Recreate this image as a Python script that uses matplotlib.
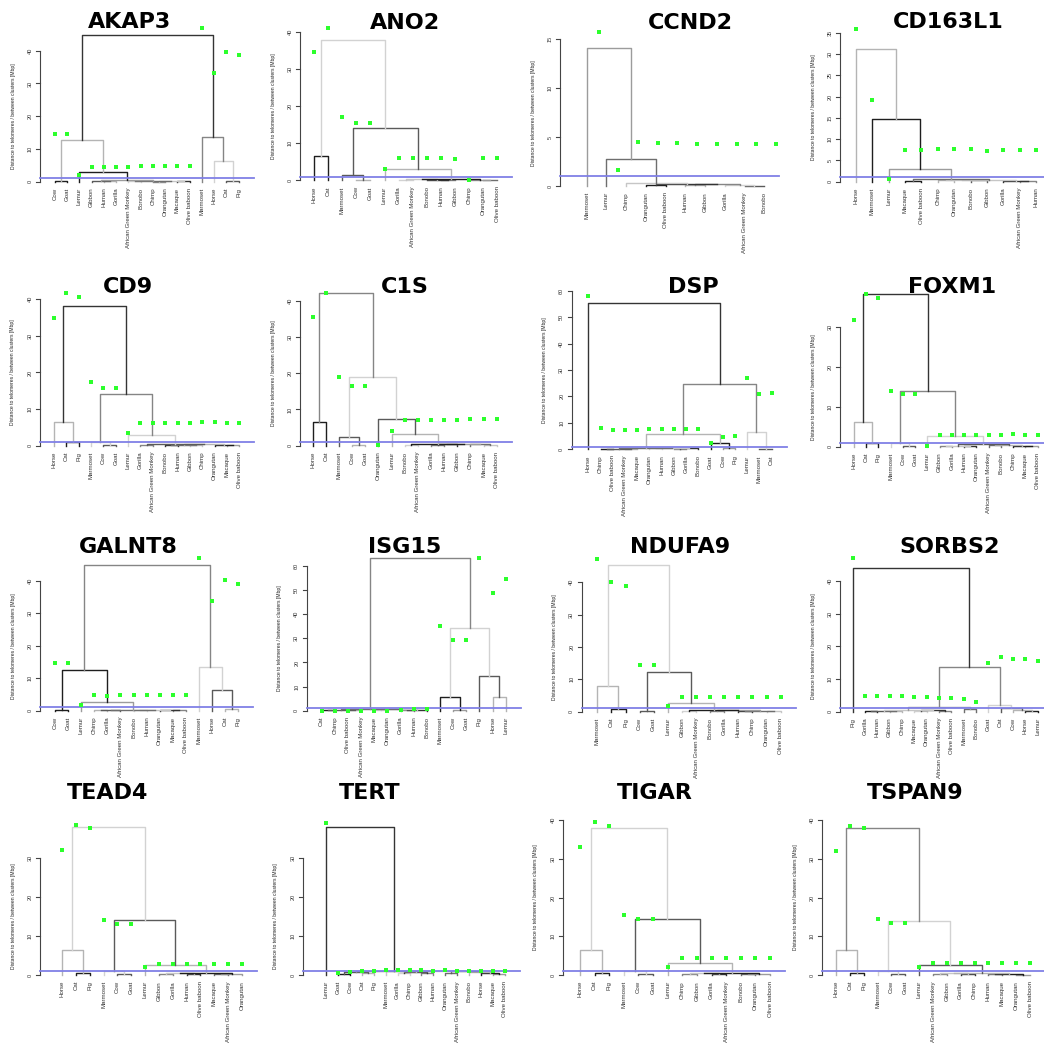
import matplotlib
matplotlib.use('Agg')
import matplotlib.pyplot as plt
import numpy as np

plt.rcParams['font.family'] = ['Liberation Sans', 'DejaVu Sans']

AGM = 'African Green Monkey'

# ---------------- data ----------------
# trees: (left, right, height); ints are leaf indices in display order
akap3_labels = ['Cow', 'Goat', 'Lemur', 'Gibbon', 'Human', 'Gorilla', AGM, 'Bonobo', 'Chimp',
                'Orangutan', 'Macaque', 'Olive baboon', 'Marmoset', 'Horse', 'Cat', 'Pig']
akap3_tree = (((0, 1, 0.15),
               (2, ((3, (4, 5, 0.1), 0.3), ((6, 7, 0.1), ((8, 9, 0.05), (10, 11, 0.2), 0.25), 0.3), 0.45), 2.9),
               12.7),
              (12, (13, (14, 15, 0.3), 6.3), 13.7), 44.8)
akap3_points = [14.6, 14.6, 2.0, 4.6, 4.6, 4.6, 4.6, 4.8, 4.9, 4.9, 4.9, 4.9, 46.8, 33.3, 39.7, 38.7]

ano2_labels = ['Horse', 'Cat', 'Marmoset', 'Cow', 'Goat', 'Lemur', 'Gorilla', AGM, 'Bonobo',
               'Human', 'Gibbon', 'Chimp', 'Orangutan', 'Olive baboon']
ano2_tree = ((0, 1, 6.5),
             ((2, (3, 4, 0.1), 1.4),
              (5, (((6, 7, 0.1), (8, (9, 10, 0.1), 0.2), 0.3), (11, (12, 13, 0.1), 0.2), 0.4), 3.0), 14.0), 37.9)
ano2_points = [34.6, 41.1, 17.1, 15.5, 15.5, 3.0, 5.9, 5.9, 5.9, 5.9, 5.7, 0.1, 5.9, 5.9]

ccnd2_labels = ['Marmoset', 'Lemur', 'Chimp', 'Orangutan', 'Olive baboon', 'Human', 'Gibbon',
                'Gorilla', AGM, 'Bonobo']
ccnd2_tree = (0, (1, (2, ((3, 4, 0.1), ((5, 6, 0.15), (7, (8, 9, 0.05), 0.1), 0.2), 0.25), 0.3), 2.8), 14.1)
ccnd2_points = [15.7, 1.6, 4.5, 4.4, 4.4, 4.3, 4.3, 4.3, 4.3, 4.3]

cd163l1_labels = ['Horse', 'Marmoset', 'Lemur', 'Macaque', 'Olive baboon', 'Chimp', 'Orangutan',
                  'Bonobo', 'Gibbon', 'Gorilla', AGM, 'Human']
cd163l1_tree = (0, (1, (2, ((3, 4, 0.1), (((5, 6, 0.3), (7, 8, 0.3), 0.4), (9, (10, 11, 0.1), 0.2), 0.5), 0.55),
                        2.9), 14.8), 31.1)
cd163l1_points = [35.8, 19.2, 0.6, 7.4, 7.4, 7.7, 7.6, 7.7, 7.2, 7.4, 7.4, 7.4]

cd9_labels = ['Horse', 'Cat', 'Pig', 'Marmoset', 'Cow', 'Goat', 'Lemur', 'Gorilla', AGM, 'Bonobo',
              'Human', 'Gibbon', 'Chimp', 'Orangutan', 'Macaque', 'Olive baboon']
cd9_tree = ((0, (1, 2, 1.1), 6.4),
            ((3, (4, 5, 0.2), 1.1),
             (6, ((7, 8, 0.1), (((9, 10, 0.2), (11, 12, 0.2), 0.3), (13, (14, 15, 0.1), 0.2), 0.35), 0.4), 2.9),
             14.1), 38.2)
cd9_points = [35.0, 41.6, 40.5, 17.5, 15.9, 15.9, 3.4, 6.1, 6.1, 6.1, 6.1, 6.1, 6.4, 6.4, 6.1, 6.1]

c1s_labels = ['Horse', 'Cat', 'Marmoset', 'Cow', 'Goat', 'Orangutan', 'Lemur', 'Bonobo', AGM,
              'Gorilla', 'Human', 'Gibbon', 'Chimp', 'Macaque', 'Olive baboon']
c1s_tree = ((0, 1, 6.6),
            ((2, (3, 4, 0.1), 2.3),
             (5, (6, ((7, 8, 0.1), (((9, 10, 0.2), 11, 0.4), (12, (13, 14, 0.1), 0.4), 0.5), 0.55), 3.2), 7.4),
             18.9), 42.0)
c1s_points = [35.6, 42.2, 19.0, 16.6, 16.6, 0.2, 4.1, 7.1, 7.1, 7.1, 7.1, 7.0, 7.4, 7.3, 7.3]

dsp_labels = ['Horse', 'Chimp', 'Olive baboon', AGM, 'Macaque', 'Orangutan', 'Human', 'Gibbon',
              'Gorilla', 'Bonobo', 'Goat', 'Cow', 'Pig', 'Lemur', 'Marmoset', 'Cat']
dsp_tree = (0, (((((1, 2, 0.1), (3, 4, 0.2), 0.3), ((5, 6, 0.4), ((7, 8, 0.3), 9, 0.4), 0.5), 0.6),
                 (10, (11, 12, 0.6), 2.5), 5.8),
                (13, (14, 15, 0.2), 6.4), 24.6), 55.5)
dsp_points = [58.0, 8.2, 7.3, 7.3, 7.3, 7.8, 7.6, 7.6, 7.6, 7.6, 2.5, 4.5, 5.0, 27.1, 20.8, 21.4]

foxm1_labels = ['Horse', 'Cat', 'Pig', 'Marmoset', 'Cow', 'Goat', 'Lemur', 'Gibbon', 'Gorilla',
                'Human', 'Orangutan', AGM, 'Bonobo', 'Chimp', 'Macaque', 'Olive baboon']
foxm1_tree = ((0, (1, 2, 0.9), 6.25),
              ((3, (4, 5, 0.1), 1.0),
               (6, (((7, 8, 0.1), (9, 10, 0.2), 0.3), ((11, 12, 0.4), (13, (14, 15, 0.1), 0.2), 0.5), 0.6), 2.75),
               13.9), 38.1)
foxm1_points = [31.8, 38.2, 37.3, 14.0, 13.1, 13.1, 0.25, 2.9, 2.9, 2.9, 2.9, 2.9, 2.9, 3.1, 2.9, 2.9]

galnt8_labels = ['Cow', 'Goat', 'Lemur', 'Chimp', 'Gorilla', AGM, 'Bonobo', 'Human', 'Orangutan',
                 'Macaque', 'Olive baboon', 'Marmoset', 'Horse', 'Cat', 'Pig']
galnt8_tree = (((0, 1, 0.1),
                (2, (((3, 4, 0.1), 5, 0.2), ((6, 7, 0.1), (8, (9, 10, 0.1), 0.2), 0.3), 0.35), 2.8), 12.5),
               (11, (12, (13, 14, 0.5), 6.4), 13.5), 44.8)
galnt8_points = [14.6, 14.6, 1.9, 4.9, 4.6, 4.7, 4.7, 4.7, 4.9, 4.9, 4.9, 46.9, 33.7, 40.1, 38.9]

isg15_labels = ['Cat', 'Chimp', 'Olive baboon', AGM, 'Macaque', 'Orangutan', 'Gorilla', 'Human',
                'Bonobo', 'Marmoset', 'Cow', 'Goat', 'Pig', 'Horse', 'Lemur']
isg15_tree = ((((0, 1, 0.1), (2, 3, 0.1), 0.3), ((4, 5, 0.4), ((6, 7, 0.2), 8, 0.3), 0.5), 0.6),
              ((9, (10, 11, 0.1), 5.8), (12, (13, 14, 5.8), 14.5), 34.1), 63.2)
isg15_points = [0.0, 0.0, 0.0, 0.0, 0.0, 0.0, 0.3, 0.8, 0.8, 35.3, 29.3, 29.3, 63.5, 48.9, 54.7]

ndufa9_labels = ['Marmoset', 'Cat', 'Pig', 'Cow', 'Goat', 'Lemur', 'Gibbon', AGM, 'Bonobo',
                 'Gorilla', 'Human', 'Chimp', 'Orangutan', 'Olive baboon']
ndufa9_tree = ((0, (1, 2, 0.7), 8.0),
               ((3, 4, 0.1),
                (5, ((6, 7, 0.2), ((8, 9, 0.3), ((10, 11, 0.2), (12, 13, 0.1), 0.3), 0.4), 0.45), 2.8), 12.4), 45.4)
ndufa9_points = [47.1, 40.0, 38.9, 14.4, 14.4, 1.75, 4.4, 4.4, 4.4, 4.4, 4.4, 4.6, 4.4, 4.4]

sorbs2_labels = ['Pig', 'Gorilla', 'Human', 'Gibbon', 'Chimp', 'Macaque', 'Orangutan', AGM,
                 'Olive baboon', 'Marmoset', 'Bonobo', 'Goat', 'Cat', 'Cow', 'Horse', 'Lemur']
sorbs2_tree = (0, ((((((1, 2, 0.2), (3, 4, 0.3), 0.35), ((5, 6, 0.3), (7, 8, 0.2), 0.4), 0.5), (9, 10, 0.7), 1.4)),
                   (11, (12, (13, (14, 15, 0.3), 0.6), 1.0), 2.0), 13.6), 43.9)
sorbs2_points = [46.9, 4.8, 4.8, 4.8, 4.8, 4.4, 4.4, 4.3, 4.3, 3.8, 3.1, 14.8, 16.8, 16.0, 16.0, 15.6]

tead4_labels = ['Horse', 'Cat', 'Pig', 'Marmoset', 'Cow', 'Goat', 'Lemur', 'Gibbon', 'Gorilla',
                'Human', 'Olive baboon', 'Macaque', AGM, 'Orangutan']
tead4_tree = ((0, (1, 2, 0.5), 6.5),
              ((3, (4, 5, 0.2), 1.0),
               (6, (((7, 8, 0.2), (9, 10, 0.3), 0.4), ((11, 12, 0.2), 13, 0.3), 0.5), 2.5), 14.0), 38.0)
tead4_points = [32.0, 38.5, 37.8, 14.2, 13.2, 13.2, 2.0, 2.7, 2.7, 2.7, 2.7, 2.7, 2.7, 2.7]

tert_labels = ['Lemur', 'Goat', 'Cow', 'Cat', 'Pig', 'Marmoset', 'Gorilla', 'Chimp', 'Gibbon',
               'Human', 'Orangutan', AGM, 'Bonobo', 'Horse', 'Macaque', 'Olive baboon']
tert_tree = (0, (((1, 2, 0.3), (3, 4, 0.5), 0.7),
                 ((5, ((6, 7, 0.4), (8, 9, 0.5), 0.7), 0.9), ((10, 11, 0.5), (12, (13, (14, 15, 0.3), 0.6), 0.8), 0.9),
                  1.0), 1.1), 38.0)
tert_points = [39.0, 0.6, 0.8, 1.0, 1.1, 1.2, 1.2, 1.2, 1.2, 1.1, 1.2, 1.0, 1.1, 1.0, 1.0, 1.0]

tigar_labels = ['Horse', 'Cat', 'Pig', 'Marmoset', 'Cow', 'Goat', 'Lemur', 'Chimp', 'Gibbon',
                'Gorilla', AGM, 'Bonobo', 'Orangutan', 'Olive baboon']
tigar_tree = ((0, (1, 2, 0.5), 6.5),
              ((3, (4, 5, 0.2), 1.0),
               (6, (((7, 8, 0.2), (9, 10, 0.3), 0.4), ((11, 12, 0.2), 13, 0.3), 0.5), 3.0), 14.5), 38.0)
tigar_points = [33.0, 39.5, 38.5, 15.5, 14.5, 14.5, 2.0, 4.5, 4.5, 4.5, 4.5, 4.5, 4.5, 4.5]

tspan9_labels = ['Horse', 'Cat', 'Pig', 'Marmoset', 'Cow', 'Goat', 'Lemur', AGM, 'Gibbon', 'Gorilla',
                 'Chimp', 'Human', 'Macaque', 'Orangutan', 'Olive baboon']
tspan9_tree = ((0, (1, 2, 0.5), 6.5),
               ((3, (4, 5, 0.2), 1.0),
                (6, (((7, 8, 0.2), (9, 10, 0.3), 0.4), ((11, 12, 0.2), (13, 14, 0.1), 0.3), 0.5), 2.5), 14.0),
               38.0)
tspan9_points = [32.0, 38.5, 38.0, 14.5, 13.5, 13.5, 2.0, 3.0, 3.0, 3.0, 3.0, 3.0, 3.0, 3.0, 3.0]

genes = ['AKAP3', 'ANO2', 'CCND2', 'CD163L1', 'CD9', 'C1S', 'DSP', 'FOXM1',
         'GALNT8', 'ISG15', 'NDUFA9', 'SORBS2', 'TEAD4', 'TERT', 'TIGAR', 'TSPAN9']
labels = [akap3_labels, ano2_labels, ccnd2_labels, cd163l1_labels, cd9_labels, c1s_labels, dsp_labels,
          foxm1_labels, galnt8_labels, isg15_labels, ndufa9_labels, sorbs2_labels, tead4_labels,
          tert_labels, tigar_labels, tspan9_labels]
trees = [akap3_tree, ano2_tree, ccnd2_tree, cd163l1_tree, cd9_tree, c1s_tree, dsp_tree, foxm1_tree,
         galnt8_tree, isg15_tree, ndufa9_tree, sorbs2_tree, tead4_tree, tert_tree, tigar_tree, tspan9_tree]
points = [akap3_points, ano2_points, ccnd2_points, cd163l1_points, cd9_points, c1s_points, dsp_points,
          foxm1_points, galnt8_points, isg15_points, ndufa9_points, sorbs2_points, tead4_points,
          tert_points, tigar_points, tspan9_points]
top_tick = [40, 40, 15, 35, 40, 40, 60, 30, 40, 60, 40, 40, 30, 30, 40, 40]
tick_step = [10, 10, 5, 5, 10, 10, 10, 10, 10, 10, 10, 10, 10, 10, 10, 10]

# ---------------- layout (pixels inside each 261px cell) ----------------
# cell x, cell y, y-axis x, first leaf x, last leaf x, zero y, top tick y, title x, title y, point shift
layout = [
    (0, 0, 40, 55, 238.7, 181.7, 50.7, 130, 22, 0),
    (260, 0, 40, 54, 237.3, 180.3, 31.7, 145, 23, 0),
    (520, 0, 40, 66.7, 244.3, 186, 39.3, 170, 23, 0.6),
    (780, 0, 60, 76, 256, 181.7, 32.7, 168, 22, 0),
    (0, 260, 40, 54, 239.3, 185.7, 39.3, 128, 27, 0),
    (260, 260, 40, 52.7, 236.7, 185.7, 40.7, 145, 27, 0),
    (520, 260, 51.7, 68.3, 251.7, 189.3, 30.7, 173, 27, 0),
    (780, 260, 60, 74, 257.7, 186.7, 66.7, 172, 27, 0),
    (0, 520, 40, 55, 238.3, 190.7, 60.7, 128, 27, 0),
    (260, 520, 46.7, 61.7, 245.7, 190.7, 46, 145, 27, 0),
    (520, 520, 61.7, 77.3, 260.7, 191.7, 62.3, 160, 27, 0),
    (780, 520, 60, 72.7, 257.7, 191.7, 61, 170, 27, 0),
    (0, 780, 40, 62, 242, 195, 78, 108, 13, 0),
    (260, 780, 43, 66, 245, 195, 78, 110, 13, 0),
    (520, 780, 43, 60, 250, 195, 40, 135, 13, 0),
    (780, 780, 42, 56, 250, 195, 40, 135, 13, 0),
]

greys = ['#1e1e1e', '#b4b4b4', '#5a5a5a', '#d2d2d2', '#858585', '#343434', '#c6c6c6', '#6e6e6e', '#9c9c9c']

W = 1044
CELL = 261

fig = plt.figure(figsize=(10.44, 10.44), dpi=100)
fig.patch.set_facecolor('white')


def draw_tree(ax, node, count):
    if isinstance(node, int):
        return node + 1, 0.0
    left, right, h = node
    xl, hl = draw_tree(ax, left, count)
    xr, hr = draw_tree(ax, right, count)
    c = greys[count[0] % len(greys)]
    count[0] += 1
    ax.plot([xl, xl, xr, xr], [hl, h, h, hr], color=c, lw=1.0, zorder=2, clip_on=False)
    return (xl + xr) / 2, h


for k, gene in enumerate(genes):
    cx, cy, axx, x1, xn, y0, yT, tx, ty, shift = layout[k]
    labs = labels[k]
    n = len(labs)
    T = top_tick[k]
    dx = (xn - x1) / (n - 1)
    unit = (y0 - yT) / T

    ax = fig.add_axes([cx / W, 1 - (cy + CELL) / W, CELL / W, CELL / W])
    ax.set_xlim(1 - x1 / dx, 1 + (CELL - x1) / dx)
    ax.set_ylim((y0 - CELL) / unit, y0 / unit)
    ax.axis('off')

    draw_tree(ax, trees[k], [0])

    # blue reference line
    xa = 1 + (axx - x1) / dx
    ax.plot([xa, n + 15 / dx], [1, 1], color='#8080e6', lw=1.3, zorder=3, clip_on=False)

    # green points
    xs = np.arange(1, n + 1) + shift
    ax.plot(xs, points[k], 's', color='#2cff2c', ms=2.5, mew=0, zorder=4, clip_on=False)

    # y axis, R style
    ax.plot([xa, xa], [0, T], color='#444444', lw=0.8, clip_on=False)
    for t in range(0, T + 1, tick_step[k]):
        ax.plot([xa, xa - 4 / dx], [t, t], color='#444444', lw=0.8, clip_on=False)
        ax.text(xa - 10 / dx, t, str(t), rotation=90, ha='center', va='center',
                fontsize=4, color='#333333')
    ax.text(xa - 27 / dx, T / 2, 'Distance to telomeres / between clusters [Mbp]', rotation=90,
            ha='center', va='center', fontsize=3.6, color='#222222')

    # leaf labels
    for i, lab in enumerate(labs):
        ax.text(i + 1, -6 / unit, lab, rotation=90, ha='center', va='top', fontsize=4.4,
                color='#333333')

    fig.text((cx + tx) / W, 1 - (cy + ty) / W, gene, ha='center', va='center',
             fontsize=16, fontweight='bold', family='DejaVu Sans')

fig.savefig('out.png', dpi=100, facecolor='white')
